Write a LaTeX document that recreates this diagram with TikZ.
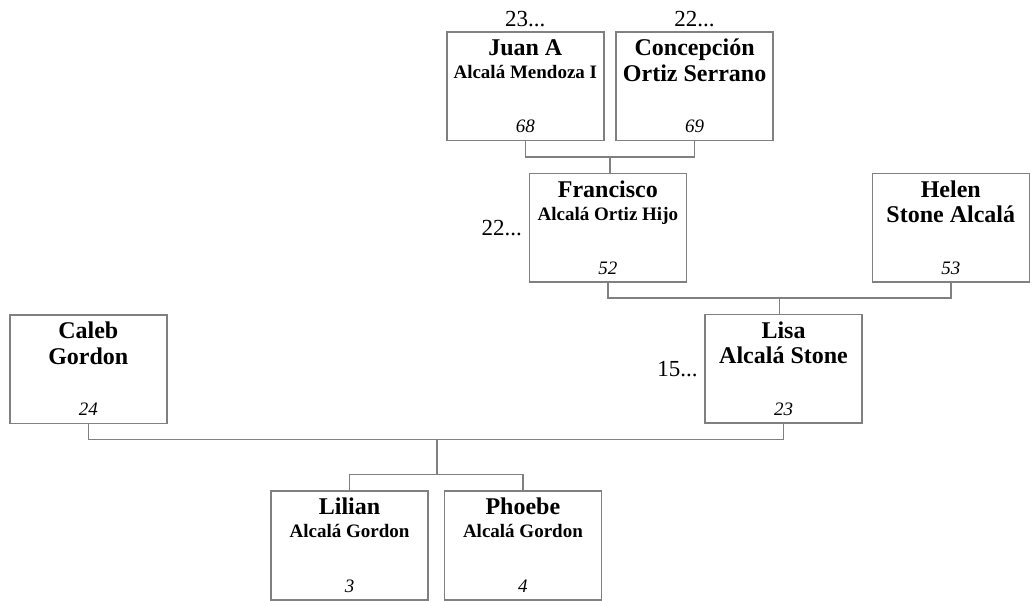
\documentclass[tikz,border=0pt]{standalone}
\usepackage{fontspec}
\setmainfont{Liberation Serif}
\definecolor{linegray}{RGB}{128,128,128}
\tikzset{
  person/.style={draw=linegray, line width=1.6pt, minimum width=157pt, minimum height=108.5pt, inner sep=0pt},
  firstname/.style={font=\fontsize{24}{28}\selectfont\bfseries, anchor=base, inner sep=0pt, yshift=-24.5pt},
  lastname/.style={font=\fontsize{24}{28}\selectfont\bfseries, anchor=base, inner sep=0pt, yshift=-50pt},
  lastsmall/.style={font=\fontsize{19}{22}\selectfont\bfseries, anchor=base, inner sep=0pt, yshift=-47.5pt},
  age/.style={font=\fontsize{19}{22}\selectfont\itshape, anchor=base, inner sep=0pt, yshift=8.5pt},
  more/.style={font=\fontsize{23}{26}\selectfont, inner sep=0pt},
  family/.style={draw=linegray, line width=1.6pt}
}
% one box: name, position, first line, second line, its style, number
\newcommand{\personbox}[6]{%
  \node[person] (#1) at (#2) {};
  \node[firstname] at (#1.north) {#3};
  \node[#5] at (#1.north) {#4};
  \node[age] at (#1.south) {#6};
}
\begin{document}
\begin{tikzpicture}[x=1pt, y=-1pt]
\useasboundingbox (0,0) rectangle (1033,601);

\personbox{juan}{525.3,86.2}{Juan A}{Alcalá Mendoza I}{lastsmall}{68}
\personbox{conc}{694.6,86.2}{Concepción}{Ortiz Serrano}{lastname}{69}
\personbox{fran}{607.9,227.8}{Francisco}{Alcalá Ortiz Hijo}{lastsmall}{52}
\personbox{helen}{950.8,227.8}{Helen}{Stone Alcalá}{lastname}{53}
\personbox{caleb}{88.3,369.2}{Caleb}{Gordon}{lastname}{24}
\personbox{lisa}{783.5,368.8}{Lisa}{Alcalá Stone}{lastname}{23}
\personbox{lilian}{349.5,545.5}{Lilian}{Alcalá Gordon}{lastsmall}{3}
\personbox{phoebe}{522.9,545.5}{Phoebe}{Alcalá Gordon}{lastsmall}{4}

% more ancestors
\node[more, anchor=base] (juanmore) at ([yshift=4.7pt]juan.north) {23...};
\node[more, anchor=base] (concmore) at ([yshift=4.7pt]conc.north) {22...};
\node[more, anchor=east] (franmore) at ([xshift=-6.5pt]fran.west) {22...};
\node[more, anchor=east] (lisamore) at ([xshift=-6.5pt]lisa.west) {15...};

% family lines
\coordinate (gp) at (610,157);
\draw[family] (juan.south) |- (gp) -| (conc.south);
\draw[family] (gp) -- (gp |- fran.north);
\coordinate (pa) at (779.3,298.3);
\draw[family] (fran.south) |- (pa) -| (helen.south);
\draw[family] (pa) -- (pa |- lisa.north);
\coordinate (cl) at (437,439.3);
\draw[family] (caleb.south) |- (cl) -| (lisa.south);
\coordinate (kids) at (437,474.3);
\draw[family] (cl) -- (kids);
\draw[family] (lilian.north) |- (kids) -| (phoebe.north);
\end{tikzpicture}
\end{document}
